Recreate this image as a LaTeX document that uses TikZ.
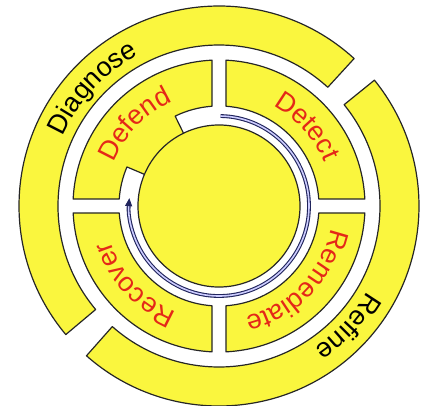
\documentclass[tikz,border=0pt]{standalone}
\usepackage{fontspec}
\setmainfont{Liberation Sans}
\usetikzlibrary{arrows.meta,decorations.text}
\definecolor{ringyellow}{RGB}{250,246,62}
\definecolor{stepred}{RGB}{228,40,24}
\definecolor{loopnavy}{RGB}{32,36,92}
\newcommand{\ringfont}{\fontsize{27}{27}\selectfont}
\tikzset{
  piece/.style={fill=ringyellow,draw=black!85,line width=1.2pt,line join=round},
  ringtext/.style={decorate,decoration={text along path,text align=center,text={#1}}}
}
\begin{document}
\begin{tikzpicture}[x=1pt,y=1pt]
\useasboundingbox (-219,-199) rectangle (203,206);
\draw[piece] (47.5:200) arc[start angle=47.5,end angle=220,radius=200] -- (220:161) arc[start angle=220,end angle=47.5,radius=161] -- cycle;
\draw[piece] (228.5:200) arc[start angle=228.5,end angle=399,radius=200] -- (39:161) arc[start angle=399,end angle=228.5,radius=161] -- cycle;
\foreach \a in {0,270,180}{
  \draw[piece] ({\a+2.75}:146) arc[start angle=\a+2.75,end angle=\a+87.25,radius=146] -- ({\a+86}:100) arc[start angle=\a+86,end angle=\a+4,radius=100] -- cycle;
}
\draw[piece] (92.75:146) arc[start angle=92.75,end angle=177.25,radius=146] -- (176:100) arc[start angle=176,end angle=157,radius=100] -- (157:81) arc[start angle=157,end angle=-244,radius=81] -- (116:100) arc[start angle=116,end angle=94,radius=100] -- cycle;
\draw[loopnavy,line width=1.1pt,double=white!80!blue,double distance=1.6pt,-{Triangle[length=8pt,width=7pt]}] (89:90) arc[start angle=89,end angle=-185,radius=90];
\path[ringtext={|\ringfont|Diagnose}] (197:171) arc[start angle=197,end angle=77,radius=171];
\path[ringtext={|\ringfont|Refine}] (17:171) arc[start angle=17,end angle=-103,radius=171];
\path[ringtext={|\ringfont\color{stepred}|Defend}] (196:114) arc[start angle=196,end angle=76,radius=114];
\path[ringtext={|\ringfont\color{stepred}|Detect}] (102:114) arc[start angle=102,end angle=-18,radius=114];
\path[ringtext={|\ringfont\color{stepred}|Remediate}] (16:114) arc[start angle=16,end angle=-104,radius=114];
\path[ringtext={|\ringfont\color{stepred}|Recover}] (283:114) arc[start angle=283,end angle=163,radius=114];
\end{tikzpicture}
\end{document}
